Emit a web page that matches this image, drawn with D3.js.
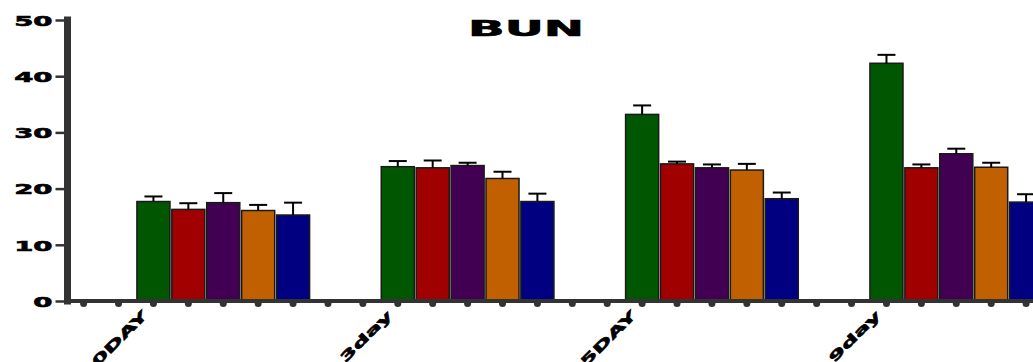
<!DOCTYPE html>
<html>
<head>
<meta charset="utf-8">
<script src="https://cdn.jsdelivr.net/npm/d3@7/dist/d3.min.js"></script>
<style>
  html, body { margin: 0; padding: 0; background: #fff; }
  svg { display: block; }
  text { font-family: "DejaVu Sans", sans-serif; font-weight: bold; fill: #000; stroke: #000; stroke-width: 0.6; }
</style>
</head>
<body>
<svg id="chart" width="1033" height="362"></svg>
<script>
// Time points on the x axis
const days = ["0DAY", "3day", "5DAY", "9day"];
// Treatment groups (one bar per group at each time point)
const groups = ["Group 1", "Group 2", "Group 3", "Group 4", "Group 5"];
const groupColors = ["#015701", "#a00000", "#410052", "#c06000", "#000080"];
// Mean BUN per group, one value per time point
const group1 = [17.7, 23.9, 33.2, 42.3];
const group2 = [16.3, 23.7, 24.4, 23.7];
const group3 = [17.5, 24.1, 23.7, 26.2];
const group4 = [16.1, 21.8, 23.3, 23.8];
const group5 = [15.3, 17.7, 18.2, 17.6];
// Standard error per group, one value per time point
const sem1 = [0.9, 1.0, 1.6, 1.5];
const sem2 = [1.1, 1.3, 0.4, 0.6];
const sem3 = [1.7, 0.5, 0.6, 0.9];
const sem4 = [1.0, 1.2, 1.1, 0.8];
const sem5 = [2.2, 1.4, 1.1, 1.4];
// Y axis ticks
const yTicks = [0, 10, 20, 30, 40, 50];

const means = [group1, group2, group3, group4, group5];
const sems = [sem1, sem2, sem3, sem4, sem5];

// Each time point occupies a block of slots: two empty slots, then one per group
const emptySlots = 2;
const slotsPerDay = emptySlots + groups.length;
const nSlots = days.length * slotsPerDay;

const rows = [];
days.forEach((d, di) => {
  groups.forEach((g, gi) => {
    rows.push({
      day: d, group: g, gi,
      slot: di * slotsPerDay + emptySlots + gi,
      mean: means[gi][di],
      sem: sems[gi][di]
    });
  });
});

const svg = d3.select("#chart");
const axisX = 67.5, baseY = 301, topY = 20;
const step = 34.84;

const x = d3.scaleBand()
  .domain(d3.range(nSlots))
  .range([67.1, 67.1 + nSlots * step])
  .paddingInner(0.053)
  .paddingOuter(0);

const y = d3.scaleLinear().domain([0, 50]).range([baseY, topY]);

const stretch = 1.9;

// Title
svg.append("text")
  .attr("x", 526 - 58).attr("y", 36)
  .attr("textLength", 116)
  .attr("lengthAdjust", "spacingAndGlyphs")
  .style("font-size", "21px")
  .text("BUN");

// Bars
svg.append("g").selectAll("rect")
  .data(rows)
  .join("rect")
  .attr("x", d => x(d.slot))
  .attr("y", d => y(d.mean))
  .attr("width", x.bandwidth())
  .attr("height", d => y(0) - y(d.mean))
  .attr("fill", d => groupColors[d.gi])
  .attr("stroke", "#1a1a1a")
  .attr("stroke-width", 1.5);

// Error bars (upper SEM)
const eb = svg.append("g").attr("stroke", "#000").attr("stroke-width", 2).attr("fill", "none");
eb.selectAll("line.v")
  .data(rows)
  .join("line")
  .attr("class", "v")
  .attr("x1", d => x(d.slot) + x.bandwidth() / 2)
  .attr("x2", d => x(d.slot) + x.bandwidth() / 2)
  .attr("y1", d => y(d.mean))
  .attr("y2", d => y(d.mean + d.sem));
eb.selectAll("line.cap")
  .data(rows)
  .join("line")
  .attr("class", "cap")
  .attr("x1", d => x(d.slot) + x.bandwidth() / 2 - 9)
  .attr("x2", d => x(d.slot) + x.bandwidth() / 2 + 9)
  .attr("y1", d => y(d.mean + d.sem))
  .attr("y2", d => y(d.mean + d.sem));

// X axis: a dot at every slot, labels under the first bar of each time point
const labelAt = new Map(days.map((d, di) => [di * slotsPerDay + emptySlots, d]));
const xAxis = d3.axisBottom(x)
  .tickSizeOuter(0)
  .tickSizeInner(1)
  .tickPadding(0)
  .tickFormat(i => labelAt.get(i) || "");
const gx = svg.append("g").attr("transform", `translate(0,${baseY})`).call(xAxis);
gx.select(".domain")
  .attr("d", `M${axisX},0H${x.range()[1] + 10}`)
  .attr("stroke", "#333").attr("stroke-width", 4);
gx.selectAll(".tick line")
  .attr("stroke", "#333").attr("stroke-width", 7).attr("stroke-linecap", "round")
  .attr("y1", 2).attr("y2", 2.5);
gx.selectAll(".tick text")
  .attr("x", 0).attr("y", 0).attr("dy", 0)
  .attr("text-anchor", "end")
  .attr("transform", "translate(-5,15) rotate(-45) scale(" + stretch + ",1)")
  .style("font-size", "13px");

// Y axis
const yAxis = d3.axisLeft(y).tickValues(yTicks).tickSizeOuter(0).tickSizeInner(12).tickPadding(3);
const gy = svg.append("g").attr("transform", `translate(${axisX},0)`).call(yAxis);
gy.select(".domain")
  .attr("d", `M0,${y(50)}V${y(0)}`)
  .attr("stroke", "#333").attr("stroke-width", 7).attr("stroke-linecap", "square");
gy.selectAll(".tick line").attr("stroke", "#333").attr("stroke-width", 2.5);
gy.selectAll(".tick text")
  .attr("x", 0).attr("dy", "0.36em")
  .attr("text-anchor", "end")
  .attr("transform", "translate(-15,0) scale(" + stretch + ",1)")
  .style("font-size", "14.5px");
</script>
</body>
</html>
